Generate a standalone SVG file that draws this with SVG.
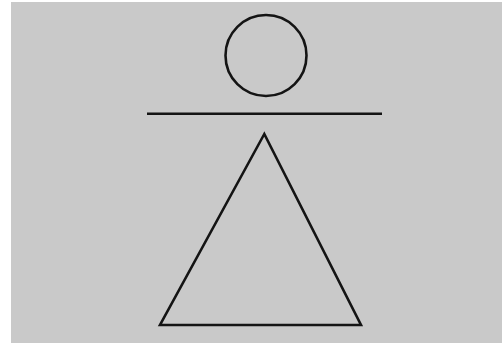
<svg xmlns="http://www.w3.org/2000/svg" width="503" height="343" viewBox="0 0 503 343">
<style>
.s{fill:none;stroke:#141414;stroke-width:2.6;stroke-linejoin:miter}
</style>
<rect width="503" height="343" fill="#ffffff"/>
<rect x="11" y="2" width="491" height="341" fill="#c9c9c9"/>
<g id="circle"><circle class="s" cx="266" cy="55.5" r="40.5"/></g>
<g id="bar"><line class="s" x1="147" y1="113.7" x2="382" y2="113.7"/></g>
<g id="triangle"><polygon class="s" points="264.3,134 160,325 361,325"/></g>
</svg>
